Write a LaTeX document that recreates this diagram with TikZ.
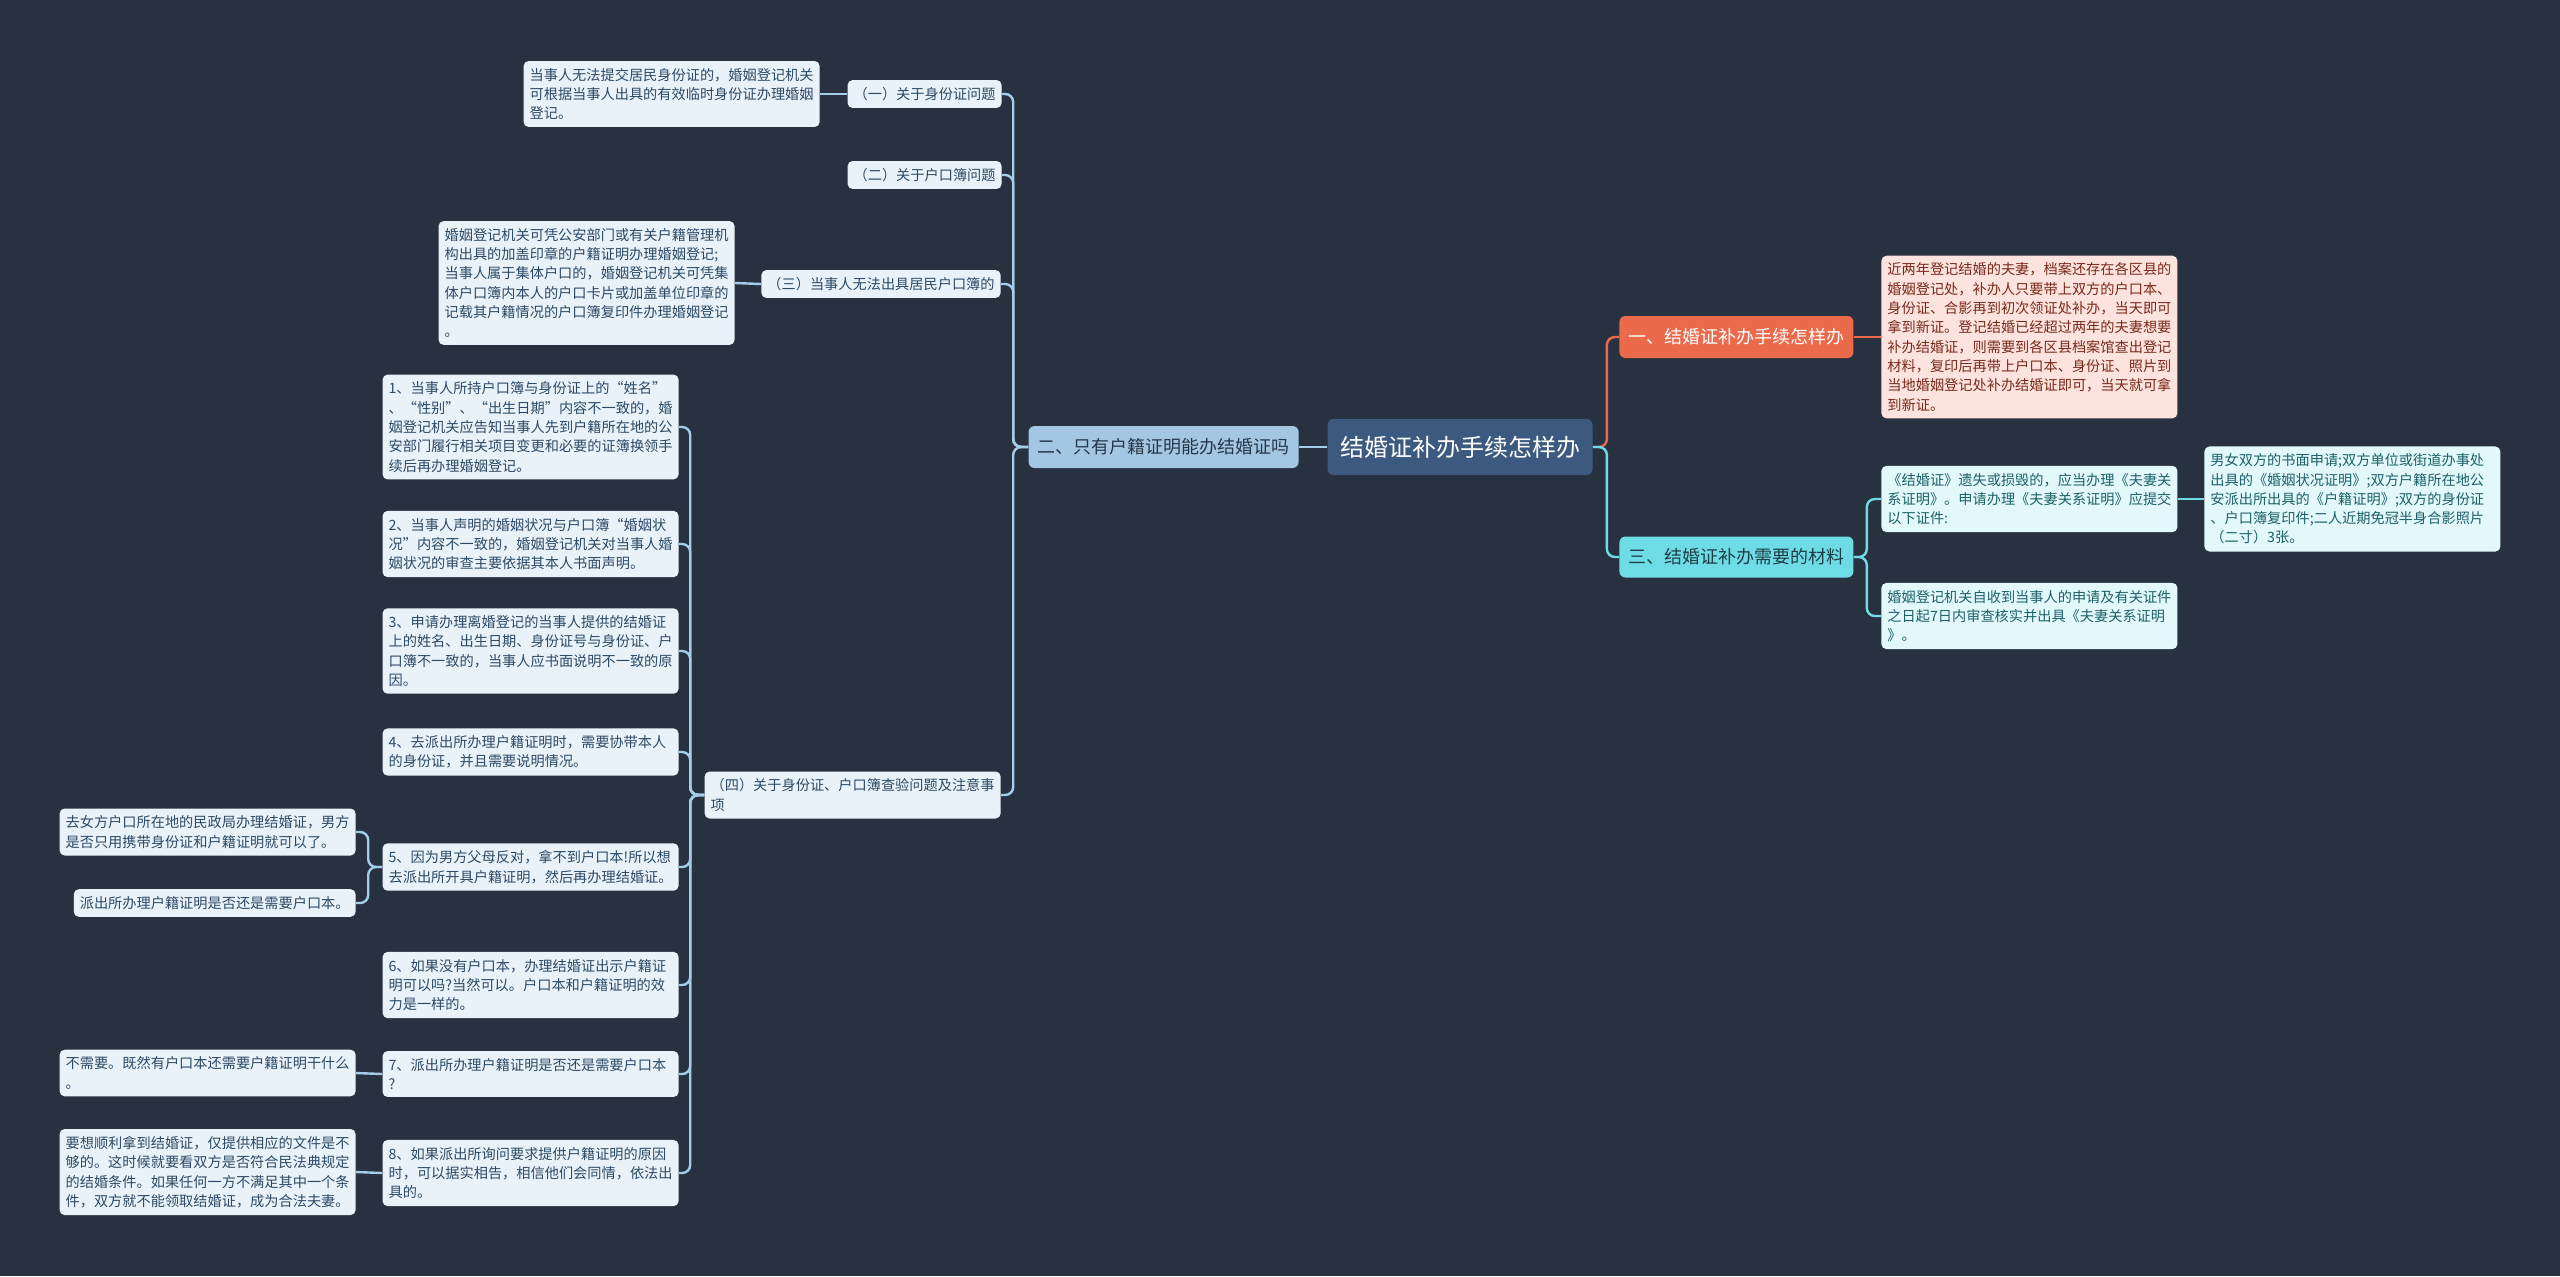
\documentclass[tikz,border=0pt]{standalone}
\usepackage{fontspec}
\setmainfont{Noto Sans CJK SC}
\usetikzlibrary{calc}
\definecolor{bg}{HTML}{283140}
\definecolor{rootfill}{HTML}{3C5A80}
\definecolor{ltwofill}{HTML}{A3C7E2}
\definecolor{ltwotext}{HTML}{26384A}
\definecolor{leaffill}{HTML}{EAF2F9}
\definecolor{leaftext}{HTML}{2C4A66}
\definecolor{linkblue}{HTML}{A4CDE8}
\definecolor{orangefill}{HTML}{EC6A4C}
\definecolor{orangeleaf}{HTML}{FCE3DD}
\definecolor{orangetext}{HTML}{7A2A1C}
\definecolor{cyanfill}{HTML}{6EDCE4}
\definecolor{cyantext}{HTML}{1E3D48}
\definecolor{cyanleaf}{HTML}{E2F8FA}
\definecolor{cyanleaftext}{HTML}{1D6169}
\tikzset{
  basebox/.style={rounded corners=2.5pt, inner xsep=3pt, inner ysep=3.6pt, align=left,
    font=\fontsize{7.1}{9.65}\selectfont},
  wide/.style={text width=142pt},
  leaf/.style={basebox, fill=leaffill, text=leaftext},
  oleaf/.style={basebox, wide, fill=orangeleaf, text=orangetext},
  cleaf/.style={basebox, wide, fill=cyanleaf, text=cyanleaftext},
  rootbox/.style={rounded corners=3pt, fill=rootfill, text=white, minimum width=132.5pt,
    minimum height=28pt, font=\fontsize{12}{14}\selectfont},
  ltwo/.style={rounded corners=3pt, fill=ltwofill, text=ltwotext, inner xsep=4.5pt,
    minimum height=21pt, font=\fontsize{9}{11}\selectfont},
  lorange/.style={rounded corners=3pt, fill=orangefill, text=white, inner xsep=4.5pt,
    minimum height=21pt, font=\fontsize{9}{11}\selectfont},
  lcyan/.style={rounded corners=3pt, fill=cyanfill, text=cyantext, inner xsep=4.5pt,
    minimum height=20.5pt, font=\fontsize{9}{11}\selectfont},
  lb/.style={draw=linkblue, line width=1.2pt, rounded corners=4pt},
  lo/.style={draw=orangefill, line width=1.2pt, rounded corners=4pt},
  lcy/.style={draw=cyanfill, line width=1.2pt, rounded corners=4pt}
}
\begin{document}
\begin{tikzpicture}[x=0.5pt,y=-0.5pt]
\fill[bg] (0,0) rectangle (2560,1276);
\useasboundingbox (0,0) rectangle (2560,1276);

% root and level 2
\node[rootbox] (root) at (1460,447) {结婚证补办手续怎样办};
\node[ltwo, anchor=east] (n2) at (1299,447) {二、只有户籍证明能办结婚证吗};
\node[lorange, anchor=west] (r1) at (1619,337) {一、结婚证补办手续怎样办};
\node[lcyan, anchor=west] (r3) at (1619,557) {三、结婚证补办需要的材料};

% right details
\node[oleaf, anchor=west] (r1d) at (1881,337) {近两年登记结婚的夫妻，档案还存在各区县的\\婚姻登记处，补办人只要带上双方的户口本、\\身份证、合影再到初次领证处补办，当天即可\\拿到新证。登记结婚已经超过两年的夫妻想要\\补办结婚证，则需要到各区县档案馆查出登记\\材料，复印后再带上户口本、身份证、照片到\\当地婚姻登记处补办结婚证即可，当天就可拿\\到新证。};
\node[cleaf, anchor=west] (r3a) at (1881,499) {《结婚证》遗失或损毁的，应当办理《夫妻关\\系证明》。申请办理《夫妻关系证明》应提交\\以下证件:};
\node[cleaf, anchor=west] (r3b) at (1881,616) {婚姻登记机关自收到当事人的申请及有关证件\\之日起7日内审查核实并出具《夫妻关系证明\\》。};
\node[cleaf, anchor=west] (r3c) at (2204,499) {男女双方的书面申请;双方单位或街道办事处\\出具的《婚姻状况证明》;双方户籍所在地公\\安派出所出具的《户籍证明》;双方的身份证\\、户口簿复印件;二人近期免冠半身合影照片\\（二寸）3张。};

% left level 3
\node[leaf, anchor=east] (a1) at (1002,94) {（一）关于身份证问题};
\node[leaf, anchor=east] (a2) at (1002,175) {（二）关于户口簿问题};
\node[leaf, anchor=east] (a3) at (1001,284) {（三）当事人无法出具居民户口簿的};
\node[leaf, wide, anchor=east] (a4) at (1001,795) {（四）关于身份证、户口簿查验问题及注意事\\项};

\node[leaf, wide, anchor=east] (a1d) at (820,94) {当事人无法提交居民身份证的，婚姻登记机关\\可根据当事人出具的有效临时身份证办理婚姻\\登记。};
\node[leaf, wide, anchor=east] (a3d) at (735,283) {婚姻登记机关可凭公安部门或有关户籍管理机\\构出具的加盖印章的户籍证明办理婚姻登记;\\当事人属于集体户口的，婚姻登记机关可凭集\\体户口簿内本人的户口卡片或加盖单位印章的\\记载其户籍情况的户口簿复印件办理婚姻登记\\。};

% items
\node[leaf, wide, anchor=east] (i1) at (679,427) {1、当事人所持户口簿与身份证上的“姓名”\\、“性别”、“出生日期”内容不一致的，婚\\姻登记机关应告知当事人先到户籍所在地的公\\安部门履行相关项目变更和必要的证簿换领手\\续后再办理婚姻登记。};
\node[leaf, wide, anchor=east] (i2) at (679,544) {2、当事人声明的婚姻状况与户口簿“婚姻状\\况”内容不一致的，婚姻登记机关对当事人婚\\姻状况的审查主要依据其本人书面声明。};
\node[leaf, wide, anchor=east] (i3) at (679,651) {3、申请办理离婚登记的当事人提供的结婚证\\上的姓名、出生日期、身份证号与身份证、户\\口簿不一致的，当事人应书面说明不一致的原\\因。};
\node[leaf, wide, anchor=east] (i4) at (679,752) {4、去派出所办理户籍证明时，需要协带本人\\的身份证，并且需要说明情况。};
\node[leaf, wide, anchor=east] (i5) at (679,867) {5、因为男方父母反对，拿不到户口本!所以想\\去派出所开具户籍证明，然后再办理结婚证。};
\node[leaf, wide, anchor=east] (i6) at (679,985) {6、如果没有户口本，办理结婚证出示户籍证\\明可以吗?当然可以。户口本和户籍证明的效\\力是一样的。};
\node[leaf, wide, anchor=east] (i7) at (679,1074) {7、派出所办理户籍证明是否还是需要户口本\\?};
\node[leaf, wide, anchor=east] (i8) at (679,1173) {8、如果派出所询问要求提供户籍证明的原因\\时，可以据实相告，相信他们会同情，依法出\\具的。};

% far-left leaves
\node[leaf, wide, anchor=east] (i5a) at (356,832) {去女方户口所在地的民政局办理结婚证，男方\\是否只用携带身份证和户籍证明就可以了。};
\node[leaf, anchor=east] (i5b) at (356,903) {派出所办理户籍证明是否还是需要户口本。};
\node[leaf, wide, anchor=east] (i7a) at (356,1073) {不需要。既然有户口本还需要户籍证明干什么\\。};
\node[leaf, wide, anchor=east] (i8a) at (356,1172) {要想顺利拿到结婚证，仅提供相应的文件是不\\够的。这时候就要看双方是否符合民法典规定\\的结婚条件。如果任何一方不满足其中一个条\\件，双方就不能领取结婚证，成为合法夫妻。};

% connectors left
\draw[lb] (root.west) -- (n2.east);
\foreach \c in {a1,a2,a3,a4} \draw[lb] (n2.west) -- ++(-15,0) |- (\c.east);
\draw[lb] (a1.west) -- (a1d.east);
\draw[lb] (a3.west) -- (a3d.east);
\foreach \c in {i1,i2,i3,i4,i5,i6,i7,i8} \draw[lb] (a4.west) -- ++(-14,0) |- (\c.east);
\foreach \c in {i5a,i5b} \draw[lb] (i5.west) -- ++(-14,0) |- (\c.east);
\draw[lb] (i7.west) -- (i7a.east);
\draw[lb] (i8.west) -- (i8a.east);

% connectors right
\draw[lo] (root.east) -- ++(14,0) |- (r1.west);
\draw[lcy] (root.east) -- ++(14,0) |- (r3.west);
\draw[lo] (r1.east) -- (r1d.west);
\foreach \c in {r3a,r3b} \draw[lcy] (r3.east) -- ++(13,0) |- (\c.west);
\draw[lcy] (r3a.east) -- (r3c.west);
\end{tikzpicture}
\end{document}
